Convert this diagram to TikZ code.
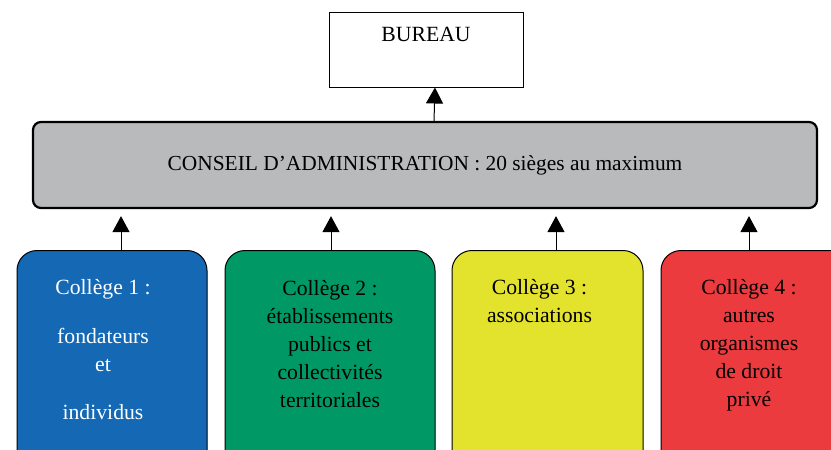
\documentclass[tikz,border=0pt]{standalone}
\usepackage{fontspec}
\setmainfont{Liberation Serif}
\usetikzlibrary{arrows.meta,calc}
\definecolor{collegeblue}{HTML}{1468B4}
\definecolor{collegegreen}{HTML}{009966}
\definecolor{collegeyellow}{HTML}{E3E22C}
\definecolor{collegered}{HTML}{EB3B3E}
\definecolor{conseilgray}{HTML}{B8BABB}
\begin{document}
\begin{tikzpicture}[x=1pt,y=-1pt,
  every node/.style={font=\fontsize{21.7}{28}\selectfont},
  box/.style={shape=rectangle, draw, line width=1pt},
  college/.style={box, rounded corners=20pt, minimum width=190pt, minimum height=240pt, anchor=north},
  boxtext/.style={align=center, anchor=north, inner sep=0pt},
  up/.style={-{Triangle[width=17pt,length=16pt]}, line width=1pt}]

  \useasboundingbox (0,0) rectangle (831,450);
  \clip (0,0) rectangle (831,450);

  \node[box, minimum width=194pt, minimum height=75pt] (bureau) at (426,49.5) {};
  \node[boxtext] (bureautext) at ([yshift=-15pt]bureau.north) {BUREAU};

  \node[box, line width=2.2pt, fill=conseilgray, rounded corners=8pt,
        minimum width=784pt, minimum height=86pt,
        font=\fontsize{21.4}{25}\selectfont] (conseil) at (425,165)
        {CONSEIL D’ADMINISTRATION : 20 sièges au maximum};

  \node[college, fill=collegeblue] (c1) at (112,250) {};
  \node[college, fill=collegegreen, minimum width=210pt] (c2) at (330,250) {};
  \node[college, fill=collegeyellow, minimum width=191pt] (c3) at (547.5,250) {};
  \node[college, fill=collegered] (c4) at (756,250) {};

  \node[boxtext, text=white] (t1) at ([xshift=-9pt,yshift=-29pt]c1.north)
    {Collège 1 :\\[21pt] fondateurs\\ et\\[20pt] individus};
  \node[boxtext] (t2) at ([yshift=-30pt]c2.north)
    {Collège 2 :\\ établissements\\ publics et\\ collectivités\\ territoriales};
  \node[boxtext] (t3) at ([xshift=-8pt,yshift=-29pt]c3.north)
    {Collège 3 :\\ associations};
  \node[boxtext] (t4) at ([xshift=-7pt,yshift=-29pt]c4.north)
    {Collège 4 :\\ autres\\ organismes\\ de droit\\ privé};

  % arrows
  \draw[up] ([xshift=9pt]conseil.north) -- ([xshift=9pt]bureau.south);
  \draw[up] ([xshift=9pt]c1.north) -- ($(c1.north |- conseil.south)+(9,7)$);
  \draw[up] ([xshift=1pt]c2.north) -- ($(c2.north |- conseil.south)+(1,7)$);
  \draw[up] ([xshift=8.5pt]c3.north) -- ($(c3.north |- conseil.south)+(8.5,7)$);
  \draw[up] ([xshift=-7pt]c4.north) -- ($(c4.north |- conseil.south)+(-7,7)$);
\end{tikzpicture}
\end{document}
